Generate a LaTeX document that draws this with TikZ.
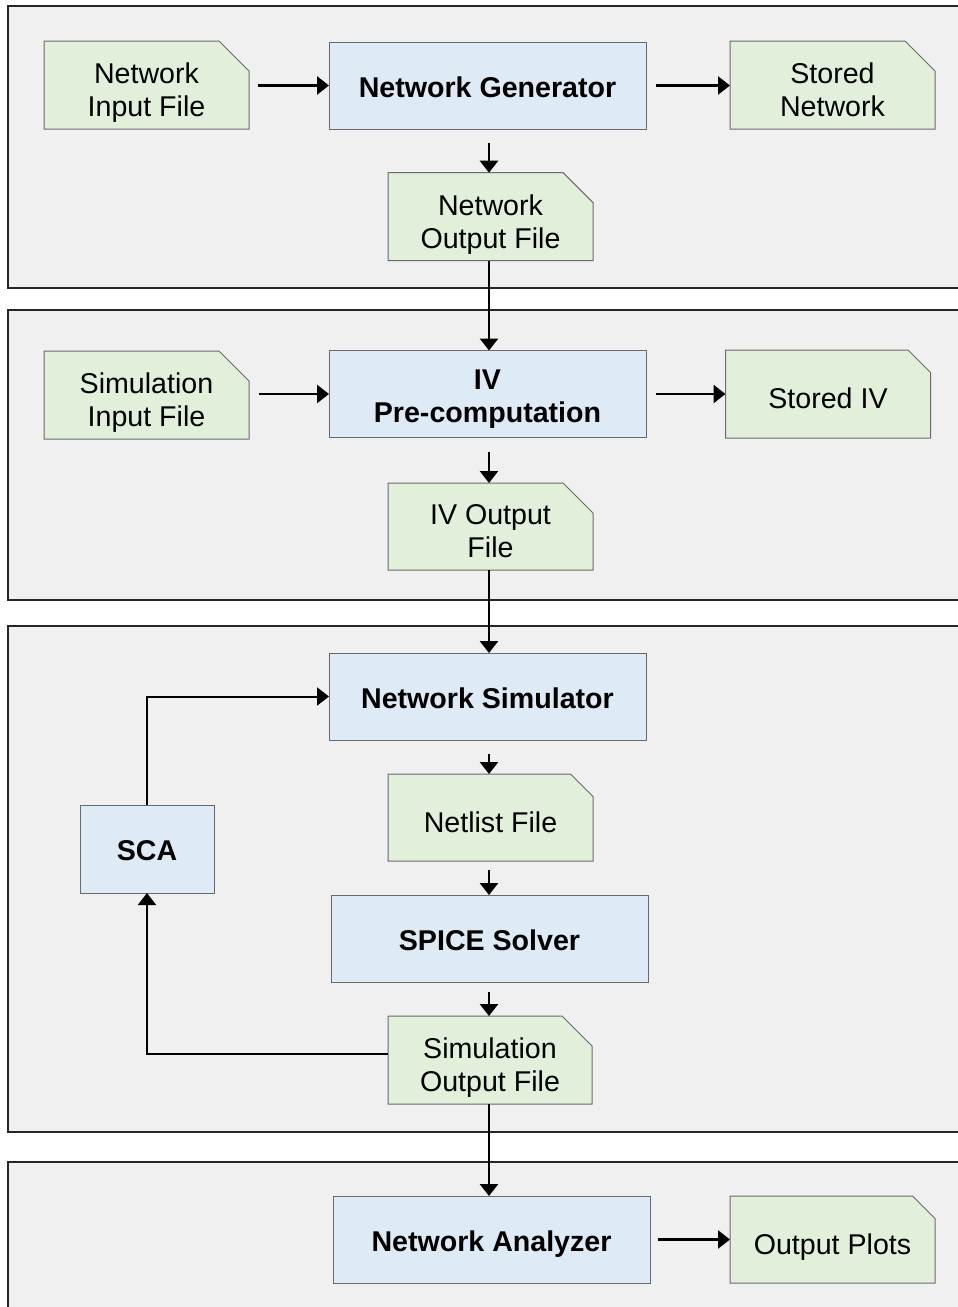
\documentclass[tikz,border=0pt]{standalone}
\usepackage{fontspec}
\setmainfont{Liberation Sans}
\usetikzlibrary{shapes.misc,arrows.meta,calc}
\definecolor{panelfill}{HTML}{F0F0F0}
\definecolor{procfill}{HTML}{DEEAF6}
\definecolor{filefill}{HTML}{E2EFDA}
\definecolor{boxline}{HTML}{6A6A6A}
\newcommand\ftx[1]{\raisebox{-8.2pt}[\dimexpr\height-9pt\relax][\dimexpr\depth-9pt\relax]{\begin{tabular}{@{}c@{}}#1\end{tabular}}}
\newcommand\ptx[1]{\raisebox{-5.2pt}[\height][\depth]{\begin{tabular}{@{}c@{}}#1\end{tabular}}}
\tikzset{
  panel/.style={draw=black!85,line width=2pt,fill=panelfill},
  proc/.style={rectangle,draw=boxline,line width=1pt,fill=procfill,outer sep=0pt,
    font=\fontsize{28.6}{33}\selectfont\bfseries,inner sep=0pt},
  filebox/.style={chamfered rectangle,chamfered rectangle corners=north east,
    chamfered rectangle xsep=15pt,chamfered rectangle ysep=15pt,
    draw=boxline,line width=1pt,fill=filefill,outer sep=0pt,
    font=\fontsize{28.6}{33}\selectfont,inner sep=0pt},
  flow/.style={line width=2.6pt,-{Triangle[length=12pt,width=18pt]}},
  thinflow/.style={line width=2pt,-{Triangle[length=12pt,width=18pt]}}
}
\begin{document}
\begin{tikzpicture}[x=1pt,y=-1pt]
\useasboundingbox (0,0) rectangle (958,1307);
\clip (0,0) rectangle (958,1307);
% panels
\path[panel] (8,6) rectangle (975,288);
\path[panel] (8,310) rectangle (975,600);
\path[panel] (8,626) rectangle (975,1132);
\path[panel] (8,1162) rectangle (975,1330);
\coordinate (cx) at (489,0);
% panel 1
\node[filebox,minimum width=205pt,minimum height=88pt] (nif) at (146.5,85) {\ftx{Network\\Input File}};
\node[proc,minimum width=317pt,minimum height=87pt] (gen) at (487.5,85.5) {\ptx{Network Generator}};
\node[filebox,minimum width=205pt,minimum height=88pt] (sn) at (832.5,85) {\ftx{Stored\\Network}};
\node[filebox,minimum width=205pt,minimum height=88pt] (nof) at (490.5,216.7) {\ftx{Network\\Output File}};
% panel 2
\node[filebox,minimum width=205pt,minimum height=88pt] (sif) at (146.5,395) {\ftx{Simulation\\Input File}};
\node[proc,minimum width=317pt,minimum height=87pt] (iv) at (487.5,394) {\ptx{IV\\Pre-computation}};
\node[filebox,minimum width=205pt,minimum height=88pt] (siv) at (828,394) {\ftx{Stored IV}};
\node[filebox,minimum width=205pt,minimum height=87pt] (ivo) at (490.5,526.5) {\ftx{IV Output\\File}};
% panel 3
\node[proc,minimum width=317pt,minimum height=87pt] (sim) at (487.5,696.5) {\ptx{Network Simulator}};
\node[filebox,minimum width=205pt,minimum height=87pt] (nl) at (490.5,817.5) {\ftx{Netlist File}};
\node[proc,minimum width=317pt,minimum height=87pt] (spice) at (489.5,938.5) {\ptx{SPICE Solver}};
\node[filebox,minimum width=204pt,minimum height=88pt] (sof) at (490,1060) {\ftx{Simulation\\Output File}};
\node[proc,minimum width=134pt,minimum height=88pt] (sca) at (147,849) {\ptx{SCA}};
% panel 4
\node[proc,minimum width=317pt,minimum height=87pt] (na) at (491.5,1239.5) {\ptx{Network Analyzer}};
\node[filebox,minimum width=205pt,minimum height=87pt] (op) at (832.5,1239.5) {\ftx{Output Plots}};
% connectors
\draw[flow,shorten <=9pt] (nif.east |- gen.west) -- (gen.west);
\draw[flow,shorten <=10pt] (gen.east) -- (sn.west |- gen.east);
\draw[flow,shorten <=14pt] (gen.south -| cx) -- (nof.north -| cx);
\draw[flow] (nof.south -| cx) -- (iv.north -| cx);
\draw[flow,shorten <=10pt] (sif.east |- iv.west) -- (iv.west);
\draw[flow,shorten <=10pt] (iv.east) -- (siv.west |- iv.east);
\draw[flow,shorten <=14pt] (iv.south -| cx) -- (ivo.north -| cx);
\draw[flow] (ivo.south -| cx) -- (sim.north -| cx);
\draw[flow,shorten <=14pt] (sim.south -| cx) -- (nl.north -| cx);
\draw[flow,shorten <=9pt] (nl.south -| cx) -- (spice.north -| cx);
\draw[flow,shorten <=10pt] (spice.south -| cx) -- (sof.north -| cx);
\draw[flow] (sof.south -| cx) -- (na.north -| cx);
\draw[flow,shorten <=8pt] (na.east) -- (op.west |- na.east);
\draw[thinflow] ($(sof.west)+(0,-6)$) -| (sca.south);
\draw[thinflow] (sca.north) |- (sim.west);
\end{tikzpicture}
\end{document}
